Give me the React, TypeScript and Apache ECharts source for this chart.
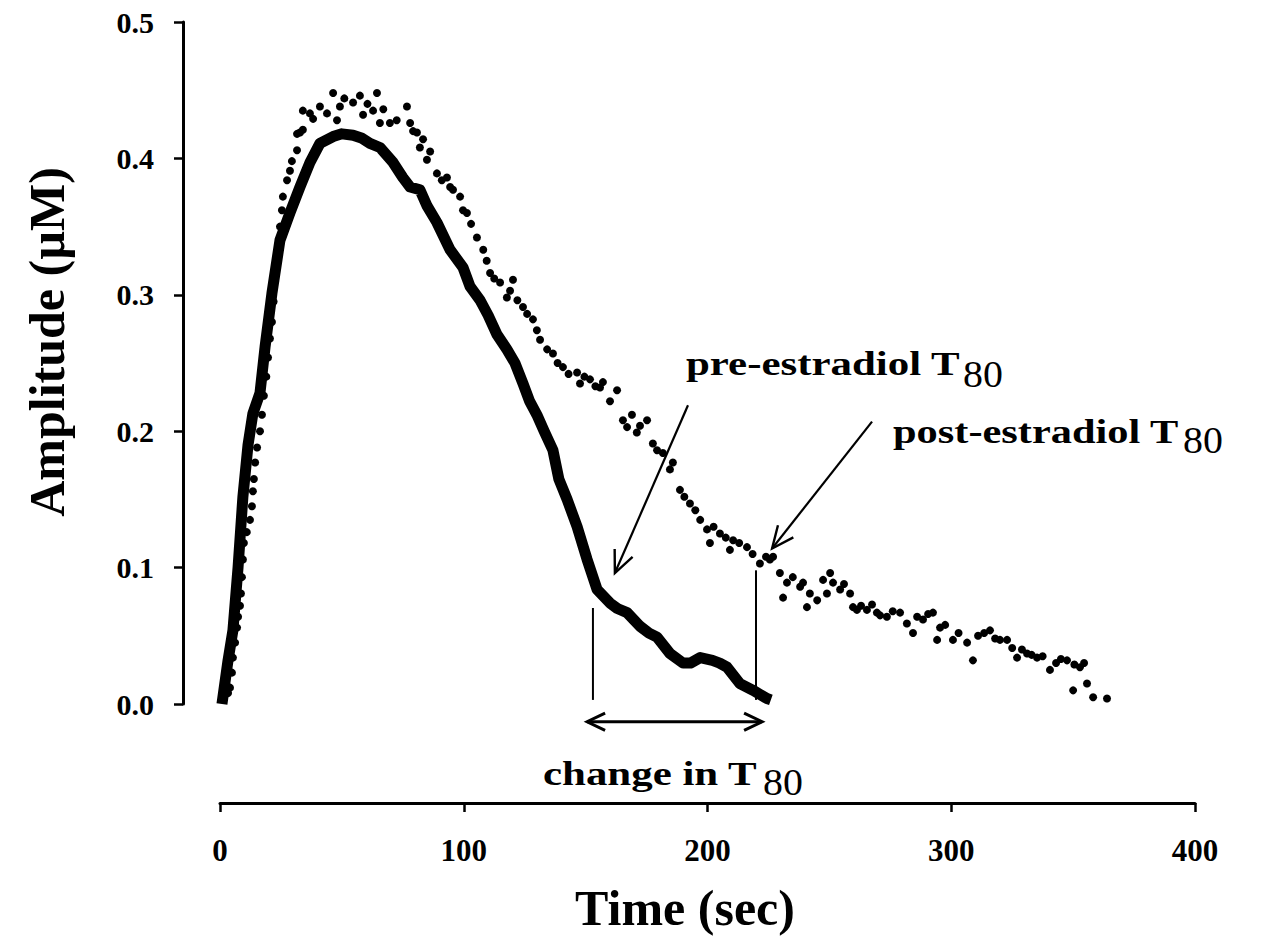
import React, { useEffect, useRef } from "react";
import * as echarts from "echarts";

// ---- axes ----
const X_TICKS = [0, 100, 200, 300, 400];
const Y_TICKS = [0, 0.1, 0.2, 0.3, 0.4, 0.5];

// ---- pre-estradiol trace (dense, drawn as a thick band) [time s, amplitude µM] ----
const preEstradiol: [number, number][] = [
  [0.8, 0], [3.3, 0.032], [5.3, 0.054], [7.4, 0.1], [9.4, 0.152], [11.5, 0.19], [13.5, 0.213],
  [16.4, 0.228], [18.5, 0.262], [21.3, 0.301], [24.6, 0.34], [28.7, 0.36], [32.8, 0.379],
  [36.9, 0.397], [41, 0.411], [46.4, 0.416], [50, 0.418], [54.6, 0.417], [58, 0.415],
  [61.5, 0.411], [65.6, 0.408], [71, 0.397], [75, 0.386], [78, 0.379], [82, 0.377], [85, 0.365],
  [89, 0.353], [94.4, 0.333], [99.7, 0.32], [102.6, 0.306], [106.7, 0.296], [110, 0.285],
  [113.6, 0.271], [117.7, 0.26], [121, 0.25], [124.3, 0.235], [127, 0.222], [130, 0.212],
  [133, 0.2], [136.6, 0.186], [139, 0.165], [142.4, 0.15], [146.5, 0.13], [150.6, 0.106],
  [154.7, 0.084], [160, 0.074], [163, 0.07], [167, 0.067], [172.3, 0.057], [176, 0.052],
  [179.3, 0.049], [184.6, 0.037], [190, 0.03], [193, 0.03], [197, 0.034], [202, 0.032],
  [205, 0.03], [208, 0.027], [213.3, 0.015], [218.7, 0.01], [224.4, 0.004], [226, 0.003],
];

// ---- post-estradiol trace (separate dots) [time s, amplitude µM] ----
const postEstradiol: [number, number][] = [
  [3.3, 0.008], [4.1, 0.012], [4.9, 0.023], [5.3, 0.034], [6.2, 0.045], [7, 0.056], [7.4, 0.064],
  [8.2, 0.072], [8.6, 0.081], [9, 0.093], [9.4, 0.106], [9.8, 0.118], [11, 0.126], [12.3, 0.135],
  [13.1, 0.145], [13.5, 0.156], [13.9, 0.165], [14.4, 0.177], [15.2, 0.188], [16.4, 0.2],
  [17.2, 0.212], [18, 0.226], [19, 0.24], [19.7, 0.254], [20.5, 0.268], [21.3, 0.28],
  [22, 0.295], [22.6, 0.31], [23.4, 0.325], [24.2, 0.338], [24.6, 0.35], [25.4, 0.362],
  [25.8, 0.372], [27.5, 0.384], [28.7, 0.391], [29.5, 0.398], [31.6, 0.406], [31.6, 0.418],
  [32.8, 0.419], [34, 0.421], [34, 0.435], [36.9, 0.433], [38.2, 0.429], [41, 0.438],
  [43.9, 0.433], [46.4, 0.448], [48, 0.428], [49.2, 0.438], [51, 0.444], [54.6, 0.441],
  [57.4, 0.446], [58.7, 0.432], [60.5, 0.44], [62.8, 0.435], [64.4, 0.448], [65.6, 0.426],
  [67, 0.436], [69.7, 0.426], [72.5, 0.428], [76.7, 0.438], [78, 0.426], [79.2, 0.42],
  [80.8, 0.419], [82, 0.408], [83.3, 0.414], [84.9, 0.399], [86.2, 0.405], [89, 0.389],
  [91, 0.384], [93.1, 0.386], [94.4, 0.379], [95.6, 0.377], [98.5, 0.372], [99.7, 0.362],
  [101.3, 0.36], [103, 0.352], [105.4, 0.342], [108, 0.333], [109.4, 0.325], [110.8, 0.316],
  [112.5, 0.312], [114.9, 0.309], [117.7, 0.298], [119, 0.303], [120.2, 0.311], [122, 0.296],
  [124.3, 0.291], [126, 0.286], [128.4, 0.282], [130, 0.274], [131.3, 0.267], [134.2, 0.26],
  [136.6, 0.257], [138.5, 0.25], [140.7, 0.247], [143, 0.242], [146.5, 0.243], [147.7, 0.235],
  [149.5, 0.24], [151.8, 0.238], [154, 0.233], [155.9, 0.232], [157.1, 0.236], [160, 0.222],
  [162.9, 0.23], [165.3, 0.208], [167, 0.203], [169, 0.212], [171, 0.199], [172.3, 0.204],
  [175.2, 0.208], [177.6, 0.191], [179.3, 0.186], [181.7, 0.184], [184.6, 0.172], [185.8, 0.177],
  [188.7, 0.157], [190.5, 0.152], [192.8, 0.147], [195, 0.142], [197, 0.135], [199.8, 0.128],
  [201, 0.118], [202.5, 0.13], [205.1, 0.125], [207.5, 0.122], [209.2, 0.113], [210.5, 0.12],
  [213, 0.118], [216.2, 0.115], [218.5, 0.11], [221.5, 0.103], [224, 0.108], [225.6, 0.106],
  [226.9, 0.108], [229.7, 0.096], [231, 0.078], [232.6, 0.089], [235, 0.093], [238, 0.086],
  [239.2, 0.089], [240.8, 0.071], [242, 0.081], [245, 0.076], [247.4, 0.091], [249, 0.081],
  [250.3, 0.096], [251.5, 0.089], [254.4, 0.084], [256, 0.088], [258.5, 0.081], [259.7, 0.071],
  [261.3, 0.069], [263, 0.072], [265.4, 0.069], [267.5, 0.073], [269.5, 0.067], [270.8, 0.065],
  [273.6, 0.064], [276, 0.068], [279, 0.067], [281.8, 0.059], [284.3, 0.052], [286, 0.064],
  [288.4, 0.062], [290.5, 0.066], [292.5, 0.067], [294.2, 0.047], [295.4, 0.056], [297.5, 0.058],
  [300.7, 0.047], [303, 0.052], [306.5, 0.045], [308.9, 0.032], [311, 0.05], [313.5, 0.052],
  [315.9, 0.054], [318, 0.048], [320, 0.047], [322.9, 0.047], [325, 0.041], [327, 0.034],
  [329, 0.04], [331.1, 0.037], [333, 0.036], [335.2, 0.034], [337.5, 0.035], [340.5, 0.025],
  [343, 0.03], [345, 0.033], [347.5, 0.032], [350, 0.01], [350.5, 0.029], [352.8, 0.027],
  [354.5, 0.03], [355.7, 0.015], [358.2, 0.005], [363.9, 0.004],
];

// ---- annotation anchors (data coordinates) ----
const T80_PRE = 153; // s
const T80_POST = 219.9; // s
const T80_PRE_TOP = 0.0704;
const T80_POST_TOP = 0.098;
const T80_LINE_BOTTOM = 0.003;
const CHANGE_ARROW_Y = -0.013;
const CHANGE_ARROW_X: [number, number] = [150.6, 222.4];
const PRE_ARROW: [number, number][] = [[192, 0.219], [162, 0.096]]; // tail, tip
const POST_ARROW: [number, number][] = [[267.5, 0.207], [226.5, 0.114]];

const SERIF = "'Liberation Serif', 'Times New Roman', serif";

function head(tip: number[], from: number[], len: number, ang: number): number[][] {
  const dx = from[0] - tip[0];
  const dy = from[1] - tip[1];
  const d = Math.hypot(dx, dy);
  const ux = dx / d;
  const uy = dy / d;
  const rot = (a: number) => [
    tip[0] + len * (ux * Math.cos(a) - uy * Math.sin(a)),
    tip[1] + len * (ux * Math.sin(a) + uy * Math.cos(a)),
  ];
  return [rot(ang), tip, rot(-ang)];
}

function label(
  text: string,
  x: number,
  y: number,
  size: number,
  weight: string,
  scaleX: number,
  align = "left",
  rotation = 0
) {
  return {
    type: "text",
    x,
    y,
    scaleX,
    rotation,
    silent: true,
    style: {
      text,
      fontFamily: SERIF,
      fontSize: size,
      fontWeight: weight,
      fill: "#000",
      align,
      textAlign: align,
      verticalAlign: "middle",
      textVerticalAlign: "middle",
    },
  };
}

export default function App() {
  const ref = useRef<HTMLDivElement>(null);

  useEffect(() => {
    if (!ref.current) return;
    const chart = echarts.init(ref.current, undefined, { renderer: "svg" });

    const axisText = { fontFamily: SERIF, fontWeight: "bold" as const, color: "#000" };

    chart.setOption({
      animation: false,
      backgroundColor: "#fff",
      grid: { left: 220, right: 66, top: 22, bottom: 244, containLabel: false },
      xAxis: {
        type: "value",
        min: X_TICKS[0],
        max: X_TICKS[X_TICKS.length - 1],
        interval: X_TICKS[1] - X_TICKS[0],
        offset: 99,
        axisLine: { show: true, onZero: false, lineStyle: { color: "#000", width: 3 } },
        axisTick: { show: true, length: 9, lineStyle: { color: "#000", width: 2.5 } },
        splitLine: { show: false },
        axisLabel: { ...axisText, fontSize: 31, margin: 32 },
      },
      yAxis: {
        type: "value",
        min: Y_TICKS[0],
        max: Y_TICKS[Y_TICKS.length - 1],
        interval: Y_TICKS[1] - Y_TICKS[0],
        offset: 37,
        axisLine: { show: true, onZero: false, lineStyle: { color: "#000", width: 3 } },
        axisTick: { show: true, length: 9, lineStyle: { color: "#000", width: 2.5 } },
        splitLine: { show: false },
        axisLabel: {
          ...axisText,
          fontSize: 30,
          margin: 29,
          formatter: (v: number) => v.toFixed(1),
        },
      },
      series: [
        {
          name: "post-estradiol",
          type: "scatter",
          data: postEstradiol,
          symbol: "circle",
          symbolSize: 8,
          itemStyle: { color: "#000", opacity: 1 },
          silent: true,
          clip: false,
        },
        {
          name: "pre-estradiol",
          type: "line",
          data: preEstradiol,
          showSymbol: false,
          symbol: "none",
          smooth: false,
          lineStyle: { color: "#000", width: 11, join: "round", opacity: 1 },
          silent: true,
        },
      ],
    });

    const p = (v: number[]) => chart.convertToPixel({ gridIndex: 0 }, v) as number[];
    const stroke = (w: number) => ({ stroke: "#000", lineWidth: w, fill: "none" });

    const preTail = p(PRE_ARROW[0]);
    const preTip = p(PRE_ARROW[1]);
    const postTail = p(POST_ARROW[0]);
    const postTip = p(POST_ARROW[1]);
    const dL = p([CHANGE_ARROW_X[0], CHANGE_ARROW_Y]);
    const dR = p([CHANGE_ARROW_X[1], CHANGE_ARROW_Y]);

    const graphic: any[] = [
      // T80 drop lines
      { type: "line", silent: true, shape: { x1: p([T80_PRE, 0])[0], y1: p([0, T80_PRE_TOP])[1], x2: p([T80_PRE, 0])[0], y2: p([0, T80_LINE_BOTTOM])[1] }, style: stroke(2) },
      { type: "line", silent: true, shape: { x1: p([T80_POST, 0])[0], y1: p([0, T80_POST_TOP])[1], x2: p([T80_POST, 0])[0], y2: p([0, T80_LINE_BOTTOM])[1] }, style: stroke(2) },
      // pointer arrows
      { type: "line", silent: true, shape: { x1: preTail[0], y1: preTail[1], x2: preTip[0], y2: preTip[1] }, style: stroke(2.2) },
      { type: "polyline", silent: true, shape: { points: head(preTip, preTail, 24, 0.42) }, style: stroke(2.4) },
      { type: "line", silent: true, shape: { x1: postTail[0], y1: postTail[1], x2: postTip[0], y2: postTip[1] }, style: stroke(2.2) },
      { type: "polyline", silent: true, shape: { points: head(postTip, postTail, 24, 0.42) }, style: stroke(2.4) },
      // double-headed change arrow
      { type: "line", silent: true, shape: { x1: dL[0], y1: dL[1], x2: dR[0], y2: dR[1] }, style: stroke(3) },
      { type: "polyline", silent: true, shape: { points: head(dL, dR, 20, 0.45) }, style: stroke(3) },
      { type: "polyline", silent: true, shape: { points: head(dR, dL, 20, 0.45) }, style: stroke(3) },
      // annotation texts
      label("pre-estradiol T", 686, 364, 33, "bold", 1.3),
      label("80", 963, 374, 38, "normal", 1.05),
      label("post-estradiol T", 893, 432, 33, "bold", 1.285),
      label("80", 1183, 440, 38, "normal", 1.05),
      label("change in T", 543, 774, 33, "bold", 1.3),
      label("80", 763, 782, 38, "normal", 1.05),
      // axis titles
      label("Time (sec)", 685, 908, 50, "bold", 1, "center"),
      label("Amplitude (\u00b5M)", 47, 342, 50, "bold", 1, "center", Math.PI / 2),
    ];

    chart.setOption({ graphic });

    return () => chart.dispose();
  }, []);

  return (
    <div
      ref={ref}
      style={{ position: "fixed", left: 0, top: 0, width: 1261, height: 948, background: "#fff" }}
    />
  );
}
